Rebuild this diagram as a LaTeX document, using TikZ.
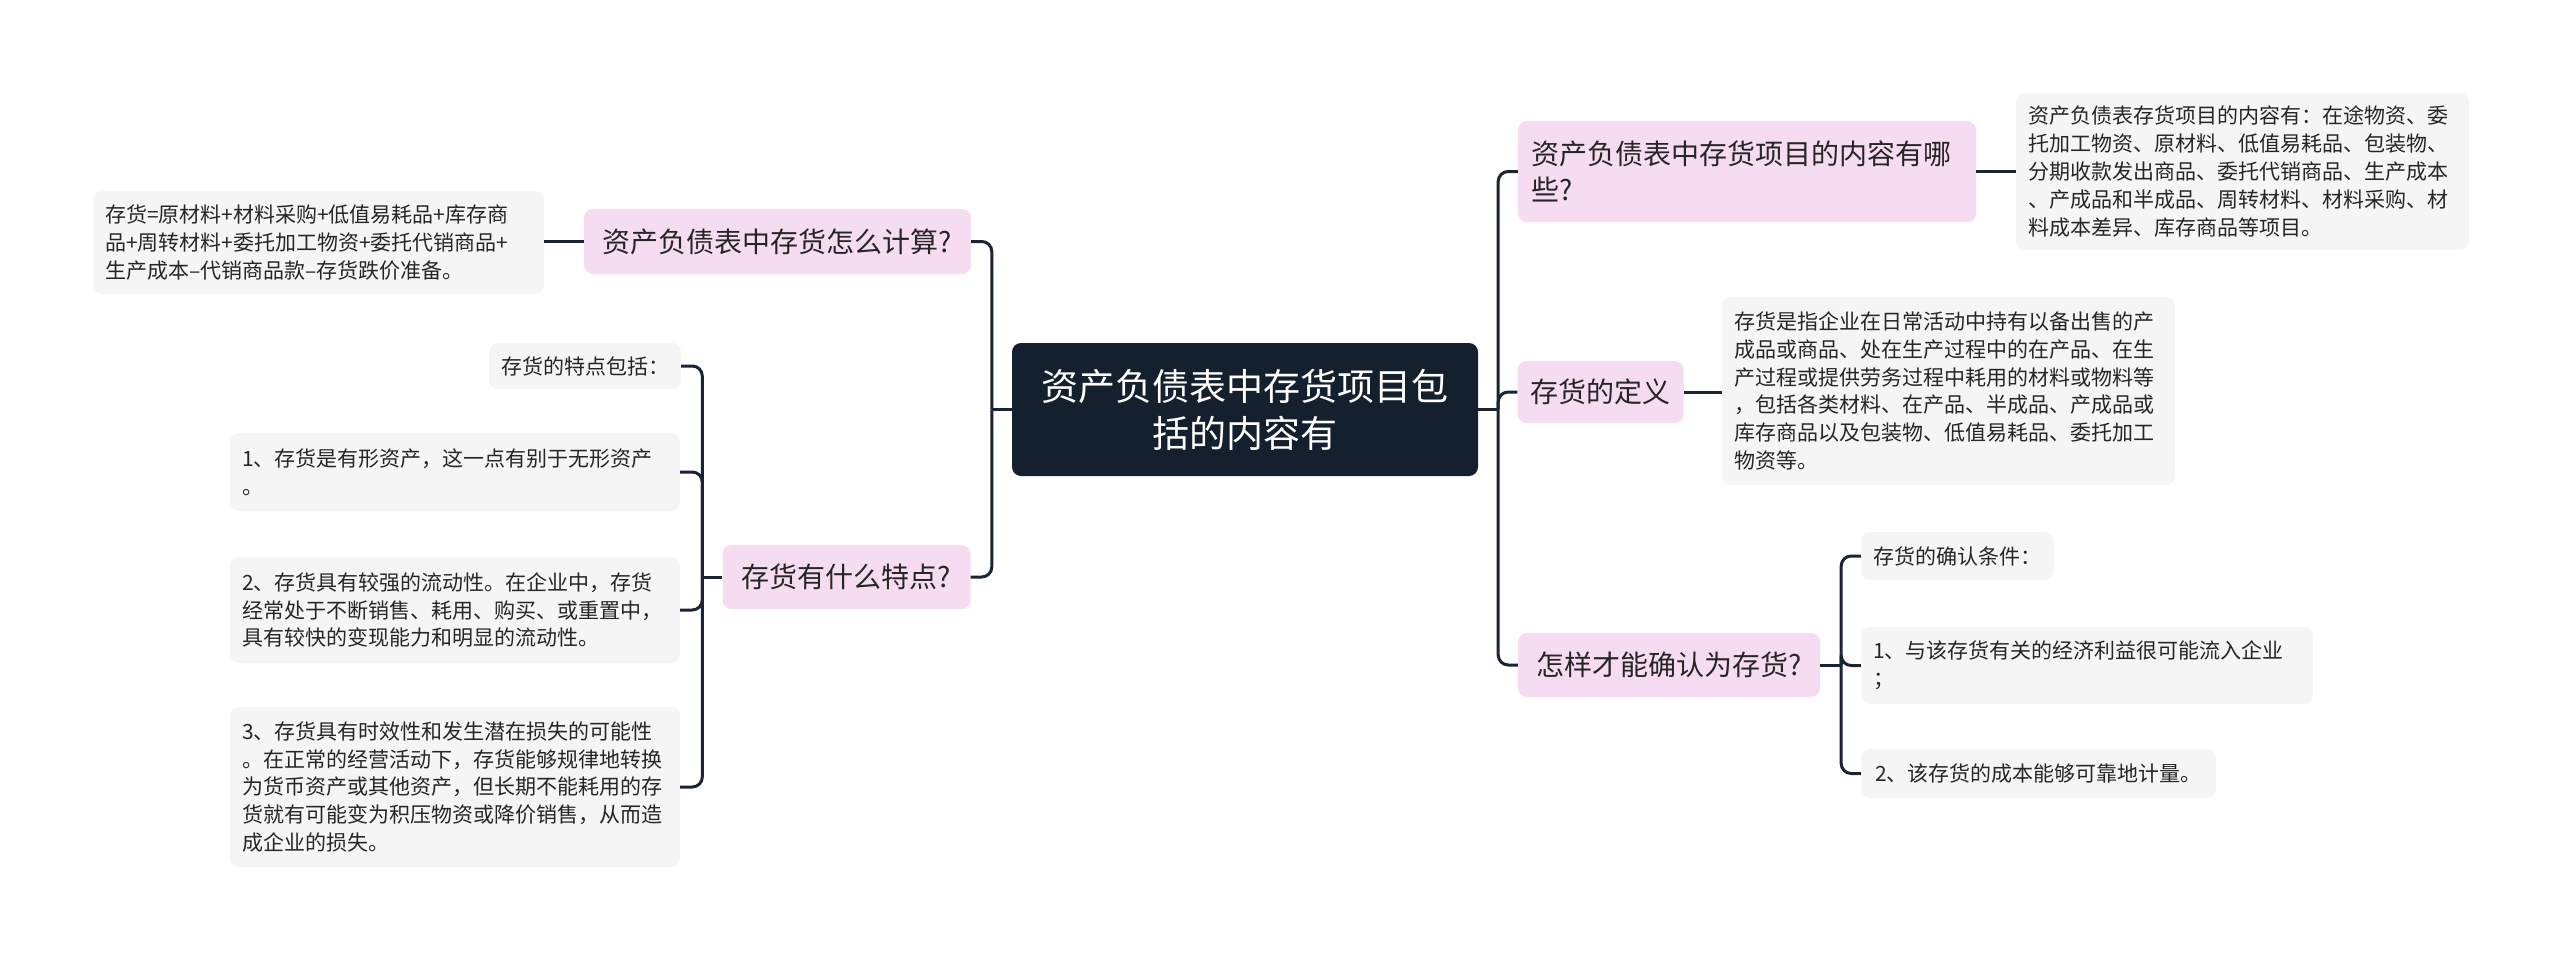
\documentclass[tikz,border=0pt]{standalone}
\usepackage{fontspec}
\setmainfont{Noto Sans CJK SC}
\usetikzlibrary{calc}
\definecolor{navy}{HTML}{14202E}
\definecolor{pinkfill}{HTML}{F6DCF0}
\definecolor{greyfill}{HTML}{F5F5F5}
\definecolor{ink}{HTML}{262626}
\definecolor{linec}{HTML}{1A2433}
\begin{document}
\begin{tikzpicture}[x=1pt,y=-1pt,
  box/.style={rectangle, rounded corners=9pt, inner ysep=0pt, text=ink},
  rootbox/.style={box, fill=navy, text=white, font=\fontsize{37}{47}\selectfont, align=center},
  pinkbox/.style={box, fill=pinkfill, font=\fontsize{28}{36}\selectfont, inner xsep=13pt},
  greybox/.style={box, fill=greyfill, font=\fontsize{21}{27.8}\selectfont, inner xsep=12pt},
  conn/.style={draw=linec, line width=3pt},
  elbowline/.style={conn, rounded corners=10pt},
]
\fill[white] (0,0) rectangle (2560,961);
\useasboundingbox (0,0) rectangle (2560,961);

% root
\node[rootbox, minimum width=466pt, minimum height=133pt] (c) at (1245,409.5) {资产负债表中存货项目包\\括的内容有};

% left branch 1
\node[pinkbox, minimum width=387pt, minimum height=65pt, align=center] (l1) at (777.5,241.5) {资产负债表中存货怎么计算?};
\node[greybox, text width=427pt, align=left, minimum height=103pt] (l1c) at (318.5,242.5) {存货=原材料+材料采购+低值易耗品+库存商\\品+周转材料+委托加工物资+委托代销商品+\\生产成本–代销商品款–存货跌价准备。};

% left branch 2
\node[pinkbox, minimum width=248pt, minimum height=64pt, align=center] (l2) at (846.5,577) {存货有什么特点?};
\node[greybox, minimum width=190pt, minimum height=46pt, align=center] (l2a) at (585,366) {存货的特点包括：};
\node[greybox, text width=426pt, align=left, minimum height=78pt] (l2b) at (455,472) {1、存货是有形资产，这一点有别于无形资产\\。};
\node[greybox, text width=426pt, align=left, minimum height=106pt] (l2c) at (455,610) {2、存货具有较强的流动性。在企业中，存货\\经常处于不断销售、耗用、购买、或重置中，\\具有较快的变现能力和明显的流动性。};
\node[greybox, text width=426pt, align=left, minimum height=160pt] (l2d) at (455,787) {3、存货具有时效性和发生潜在损失的可能性\\。在正常的经营活动下，存货能够规律地转换\\为货币资产或其他资产，但长期不能耗用的存\\货就有可能变为积压物资或降价销售，从而造\\成企业的损失。};

% right branch 1
\node[pinkbox, text width=432pt, align=left, minimum height=101pt] (r1) at (1747,171.5) {资产负债表中存货项目的内容有哪\\些?};
\node[greybox, text width=429pt, align=left, minimum height=157pt] (r1c) at (2242.5,171.5) {资产负债表存货项目的内容有：在途物资、委\\托加工物资、原材料、低值易耗品、包装物、\\分期收款发出商品、委托代销商品、生产成本\\、产成品和半成品、周转材料、材料采购、材\\料成本差异、库存商品等项目。};

% right branch 2
\node[pinkbox, minimum width=165pt, minimum height=62pt, align=center] (r2) at (1600.5,392) {存货的定义};
\node[greybox, text width=429pt, align=left, minimum height=188pt] (r2c) at (1948.5,391) {存货是指企业在日常活动中持有以备出售的产\\成品或商品、处在生产过程中的在产品、在生\\产过程或提供劳务过程中耗用的材料或物料等\\，包括各类材料、在产品、半成品、产成品或\\库存商品以及包装物、低值易耗品、委托加工\\物资等。};

% right branch 3
\node[pinkbox, minimum width=302pt, minimum height=64pt, align=center] (r3) at (1669,665) {怎样才能确认为存货?};
\node[greybox, minimum width=193pt, minimum height=48pt, align=center] (r3a) at (1957.5,556) {存货的确认条件：};
\node[greybox, text width=428pt, align=left, minimum height=77pt] (r3b) at (2087,665.5) {1、与该存货有关的经济利益很可能流入企业\\；};
\node[greybox, minimum width=355pt, minimum height=49pt, align=center] (r3c) at (2038.5,773.5) {2、该存货的成本能够可靠地计量。};

% connectors
\coordinate (bl) at ($(c.west)+(-20,0)$);
\coordinate (br) at ($(c.east)+(20,0)$);
\coordinate (b2) at ($(l2.west)+(-20,0)$);
\coordinate (b3) at ($(r3.east)+(21,0)$);

\draw[conn] (c.west) -- (bl);
\draw[elbowline] (bl) |- (l1.east);
\draw[elbowline] (bl) |- (l2.east);
\draw[conn] (c.east) -- (br);
\draw[elbowline] (br) |- (r1.west);
\draw[elbowline] (br) |- (r2.west);
\draw[elbowline] (br) |- (r3.west);

\draw[conn] (l1.west) -- (l1.west -| l1c.east);
\draw[conn] (l2.west) -- (b2);
\draw[elbowline] (b2) |- (l2a.east);
\draw[elbowline] (b2) |- (l2b.east);
\draw[elbowline] (b2) |- (l2c.east);
\draw[elbowline] (b2) |- (l2d.east);

\draw[conn] (r1.east) -- (r1.east -| r1c.west);
\draw[conn] (r2.east) -- (r2.east -| r2c.west);
\draw[conn] (r3.east) -- (b3);
\draw[elbowline] (b3) |- (r3a.west);
\draw[elbowline] (b3) |- (r3b.west);
\draw[elbowline] (b3) |- (r3c.west);
\end{tikzpicture}
\end{document}
